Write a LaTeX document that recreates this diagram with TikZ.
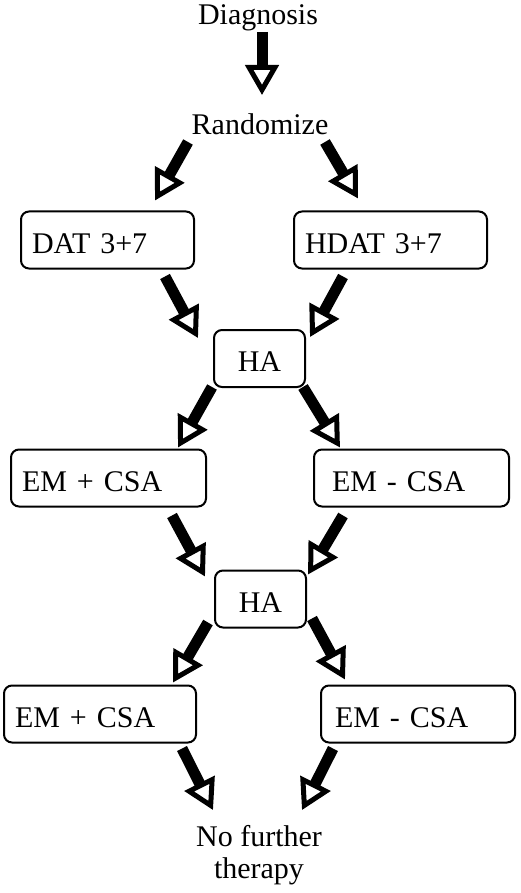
\documentclass[tikz,border=0pt]{standalone}
\usepackage{fontspec}
\setmainfont{Liberation Serif}
\usepackage{tikz}
\usetikzlibrary{positioning, arrows.meta}
\newcommand{\bigtext}{\fontsize{30}{32}\selectfont}

\begin{document}
\begin{tikzpicture}[
  x=1pt, y=-1pt,
  label text/.style={font=\bigtext, inner sep=0},
  stagebox/.style={draw, line width=2pt, rounded corners=8pt, minimum height=57pt,
    inner xsep=11pt, text height=26pt, text depth=0pt, align=left, font=\bigtext},
  flow/.style={line width=11pt,
    -{Triangle[open, length=30pt, width=33pt, line width=5pt]}},
]

\useasboundingbox (0,0) rectangle (520,893);

% ==================== start ====================
\node[label text, anchor=base] (diag) at (258,25) {Diagnosis};
\node[label text, anchor=base] (rand) at (260,135) {Randomize};

% ==================== induction ====================
\node[stagebox, text width=151pt] (dat) at (107.5,240) {DAT 3+7};
\node[stagebox, text width=171pt] (hdat) at (390.5,240) {HDAT 3+7};
\node[stagebox, text width=69pt, align=center] (ha1) at (259.5,358.5) {HA};

% ==================== first consolidation ====================
\node[stagebox, text width=173pt] (emp1) at (108.5,478) {EM + CSA};
\node[stagebox, text width=159pt, inner xsep=18pt] (emm1) at (411.5,478) {EM - CSA};
\node[stagebox, text width=69pt, align=center] (ha2) at (260.5,599) {HA};

% ==================== second consolidation ====================
\node[stagebox, text width=170pt] (emp2) at (100,714) {EM + CSA};
\node[stagebox, text width=166pt, inner xsep=14pt] (emm2) at (418,714) {EM - CSA};

% ==================== end ====================
\node[label text, align=center, anchor=north] (nft) at (259,825) {No further\\therapy};

% Arrows
\draw[flow] ([shift={(4,7)}]diag.base) -- ([shift={(2,-40)}]rand.base);
\draw[flow] ([shift={(-72,7)}]rand.base) -- ([shift={(47.5,-10)}]dat.north);
\draw[flow] ([shift={(65,7)}]rand.base) -- ([shift={(-32.5,-12)}]hdat.north);
\draw[flow] ([shift={(57.5,7)}]dat.south) -- ([shift={(-15,9)}]ha1.north west);
\draw[flow] ([shift={(-47.5,7)}]hdat.south) -- ([shift={(4,8)}]ha1.north east);
\draw[flow] ([shift={(-1,-1)}]ha1.south west) -- ([shift={(69.5,-1)}]emp1.north);
\draw[flow] ([shift={(-3,-1)}]ha1.south east) -- ([shift={(-71.5,-1)}]emm1.north);
\draw[flow] ([shift={(63.5,8)}]emp1.south) -- ([shift={(-9,7)}]ha2.north west);
\draw[flow] ([shift={(-68.5,8)}]emm1.south) -- ([shift={(1,5)}]ha2.north east);
\draw[flow] ([shift={(-6,-6)}]ha2.south west) -- ([shift={(73,-2)}]emp2.north);
\draw[flow] ([shift={(5,-10)}]ha2.south east) -- ([shift={(-73,-5)}]emm2.north);
\draw[flow] ([shift={(82,5)}]emp2.south) -- ([shift={(-46,-15)}]nft.north);
\draw[flow] ([shift={(-85,5)}]emm2.south) -- ([shift={(43,-15)}]nft.north);

\end{tikzpicture}
\end{document}
